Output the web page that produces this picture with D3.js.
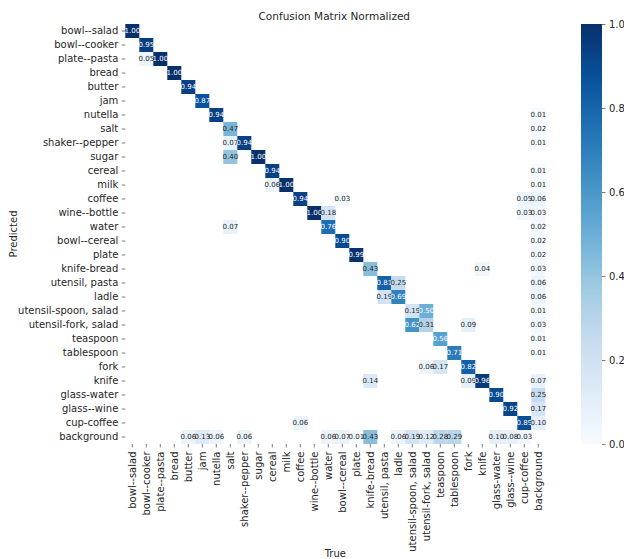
<!DOCTYPE html>
<html>
<head>
<meta charset="utf-8">
<script src="https://cdn.jsdelivr.net/npm/d3@7"></script>
<style>
  html, body { margin: 0; padding: 0; background: #fff; }
  svg { display: block; font-family: "DejaVu Sans", sans-serif; }
</style>
</head>
<body>
<svg id="chart" width="624" height="559"></svg>
<script>
// Class names (same order on both axes)
const classes = [
  "bowl--salad", "bowl--cooker", "plate--pasta", "bread", "butter", "jam",
  "nutella", "salt", "shaker--pepper", "sugar", "cereal", "milk", "coffee",
  "wine--bottle", "water", "bowl--cereal", "plate", "knife-bread",
  "utensil, pasta", "ladle", "utensil-spoon, salad", "utensil-fork, salad",
  "teaspoon", "tablespoon", "fork", "knife", "glass-water", "glass--wine",
  "cup-coffee", "background"
];

// Non-zero normalized entries: [predicted row, true column, value]
const cells = [
  ["bowl--salad", "bowl--salad", 1.00],
  ["bowl--cooker", "bowl--cooker", 0.95],
  ["plate--pasta", "bowl--cooker", 0.05], ["plate--pasta", "plate--pasta", 1.00],
  ["bread", "bread", 1.00],
  ["butter", "butter", 0.94],
  ["jam", "jam", 0.87],
  ["nutella", "nutella", 0.94], ["nutella", "background", 0.01],
  ["salt", "salt", 0.47], ["salt", "background", 0.02],
  ["shaker--pepper", "salt", 0.07], ["shaker--pepper", "shaker--pepper", 0.94], ["shaker--pepper", "background", 0.01],
  ["sugar", "salt", 0.40], ["sugar", "sugar", 1.00],
  ["cereal", "cereal", 0.94], ["cereal", "background", 0.01],
  ["milk", "cereal", 0.06], ["milk", "milk", 1.00], ["milk", "background", 0.01],
  ["coffee", "coffee", 0.94], ["coffee", "bowl--cereal", 0.03], ["coffee", "cup-coffee", 0.05], ["coffee", "background", 0.06],
  ["wine--bottle", "wine--bottle", 1.00], ["wine--bottle", "water", 0.18], ["wine--bottle", "cup-coffee", 0.03], ["wine--bottle", "background", 0.03],
  ["water", "salt", 0.07], ["water", "water", 0.76], ["water", "background", 0.02],
  ["bowl--cereal", "bowl--cereal", 0.90], ["bowl--cereal", "background", 0.02],
  ["plate", "plate", 0.99], ["plate", "background", 0.02],
  ["knife-bread", "knife-bread", 0.43], ["knife-bread", "knife", 0.04], ["knife-bread", "background", 0.03],
  ["utensil, pasta", "utensil, pasta", 0.81], ["utensil, pasta", "ladle", 0.25], ["utensil, pasta", "background", 0.06],
  ["ladle", "utensil, pasta", 0.19], ["ladle", "ladle", 0.69], ["ladle", "background", 0.06],
  ["utensil-spoon, salad", "utensil-spoon, salad", 0.19], ["utensil-spoon, salad", "utensil-fork, salad", 0.50], ["utensil-spoon, salad", "background", 0.01],
  ["utensil-fork, salad", "utensil-spoon, salad", 0.62], ["utensil-fork, salad", "utensil-fork, salad", 0.31], ["utensil-fork, salad", "fork", 0.09], ["utensil-fork, salad", "background", 0.03],
  ["teaspoon", "teaspoon", 0.56], ["teaspoon", "background", 0.01],
  ["tablespoon", "tablespoon", 0.71], ["tablespoon", "background", 0.01],
  ["fork", "utensil-fork, salad", 0.06], ["fork", "teaspoon", 0.17], ["fork", "fork", 0.82],
  ["knife", "knife-bread", 0.14], ["knife", "fork", 0.09], ["knife", "knife", 0.96], ["knife", "background", 0.07],
  ["glass-water", "glass-water", 0.90], ["glass-water", "background", 0.25],
  ["glass--wine", "glass--wine", 0.92], ["glass--wine", "background", 0.17],
  ["cup-coffee", "coffee", 0.06], ["cup-coffee", "cup-coffee", 0.89], ["cup-coffee", "background", 0.10],
  ["background", "butter", 0.06], ["background", "jam", 0.13], ["background", "nutella", 0.06],
  ["background", "shaker--pepper", 0.06], ["background", "water", 0.06], ["background", "bowl--cereal", 0.07],
  ["background", "plate", 0.01], ["background", "knife-bread", 0.43], ["background", "ladle", 0.06],
  ["background", "utensil-spoon, salad", 0.19], ["background", "utensil-fork, salad", 0.12],
  ["background", "teaspoon", 0.28], ["background", "tablespoon", 0.29], ["background", "glass-water", 0.10],
  ["background", "glass--wine", 0.08], ["background", "cup-coffee", 0.03]
];

const colorbarTicks = [0, 0.2, 0.4, 0.6, 0.8, 1.0];

// Blues colour ramp (9 anchor colours, linear between them)
const bluesAnchors = ["#f7fbff", "#deebf7", "#c6dbef", "#9ecae1", "#6baed6",
                      "#4292c6", "#2171b5", "#08519c", "#08306b"];
const color = d3.scaleLinear()
  .domain(d3.range(9).map(i => i / 8))
  .range(bluesAnchors)
  .interpolate(d3.interpolateRgb)
  .clamp(true);

const svg = d3.select("#chart");
const textColor = "#262626";
const labelSize = 10;

const plotLeft = 125.3, plotRight = 545.3, plotTop = 24, plotBottom = 444;
const x = d3.scaleBand().domain(classes).range([plotLeft, plotRight]);
const y = d3.scaleBand().domain(classes).range([plotTop, plotBottom]);

// Relative luminance, used to pick a readable annotation colour
function luminance(c) {
  const rgb = d3.rgb(c);
  const lin = v => {
    v /= 255;
    return v <= 0.03928 ? v / 12.92 : Math.pow((v + 0.055) / 1.055, 2.4);
  };
  return 0.2126 * lin(rgb.r) + 0.7152 * lin(rgb.g) + 0.0722 * lin(rgb.b);
}

// Heatmap cells
const g = svg.append("g");
g.selectAll("rect.cell")
  .data(cells)
  .join("rect")
  .attr("class", "cell")
  .attr("x", d => x(d[1]))
  .attr("y", d => y(d[0]))
  .attr("width", x.bandwidth())
  .attr("height", y.bandwidth())
  .attr("fill", d => color(d[2]));

g.selectAll("text.annot")
  .data(cells)
  .join("text")
  .attr("class", "annot")
  .attr("x", d => x(d[1]) + x.bandwidth() / 2)
  .attr("y", d => y(d[0]) + y.bandwidth() / 2)
  .attr("text-anchor", "middle")
  .attr("dominant-baseline", "central")
  .attr("font-size", 7)
  .attr("fill", d => luminance(color(d[2])) > 0.408 ? textColor : "#ffffff")
  .text(d => d3.format(".2f")(d[2]));

// Axes
const yAxis = d3.axisLeft(y).tickSize(3.5).tickPadding(3.5);
const yG = svg.append("g").attr("transform", `translate(${plotLeft},0)`).call(yAxis);
const xAxis = d3.axisBottom(x).tickSize(3.5).tickPadding(3.5);
const xG = svg.append("g").attr("transform", `translate(0,${plotBottom})`).call(xAxis);

[yG, xG].forEach(ax => {
  ax.select(".domain").remove();
  ax.selectAll(".tick line").attr("stroke", "#5a5a5a").attr("stroke-width", 0.8);
  ax.selectAll(".tick text")
    .attr("fill", textColor)
    .attr("font-size", labelSize)
    .attr("font-family", "DejaVu Sans, sans-serif");
});
xG.selectAll(".tick text")
  .attr("transform", "rotate(-90)")
  .attr("text-anchor", "end")
  .attr("dy", "0.32em")
  .attr("x", -7.5)
  .attr("y", 0);

// Titles
svg.append("text")
  .attr("x", (plotLeft + plotRight) / 2 - 1).attr("y", 16)
  .attr("text-anchor", "middle").attr("dominant-baseline", "central")
  .attr("font-size", 10.5).attr("fill", textColor)
  .text("Confusion Matrix Normalized");

svg.append("text")
  .attr("x", (plotLeft + plotRight) / 2).attr("y", 553)
  .attr("text-anchor", "middle").attr("dominant-baseline", "central")
  .attr("font-size", labelSize).attr("fill", textColor)
  .text("True");

svg.append("text")
  .attr("transform", `translate(13,${(plotTop + plotBottom) / 2}) rotate(-90)`)
  .attr("text-anchor", "middle").attr("dominant-baseline", "central")
  .attr("font-size", labelSize).attr("fill", textColor)
  .text("Predicted");

// Colour bar
const cbX = 581, cbW = 21;
const cbScale = d3.scaleLinear().domain([0, 1]).range([plotBottom, plotTop]);
const defs = svg.append("defs");
const grad = defs.append("linearGradient")
  .attr("id", "cbGrad").attr("x1", 0).attr("y1", 1).attr("x2", 0).attr("y2", 0);
grad.selectAll("stop")
  .data(d3.range(0, 1.0001, 0.125))
  .join("stop")
  .attr("offset", d => d)
  .attr("stop-color", d => color(d));
svg.append("rect")
  .attr("x", cbX).attr("y", plotTop)
  .attr("width", cbW).attr("height", plotBottom - plotTop)
  .attr("fill", "url(#cbGrad)");

const cbAxis = d3.axisRight(cbScale).tickValues(colorbarTicks)
  .tickFormat(d3.format(".1f")).tickSize(3.5).tickPadding(3.5);
const cbG = svg.append("g").attr("transform", `translate(${cbX + cbW},0)`).call(cbAxis);
cbG.select(".domain").remove();
cbG.selectAll(".tick line").attr("stroke", "#5a5a5a").attr("stroke-width", 0.8);
cbG.selectAll(".tick text")
  .attr("fill", textColor).attr("font-size", labelSize)
  .attr("font-family", "DejaVu Sans, sans-serif");
</script>
</body>
</html>
